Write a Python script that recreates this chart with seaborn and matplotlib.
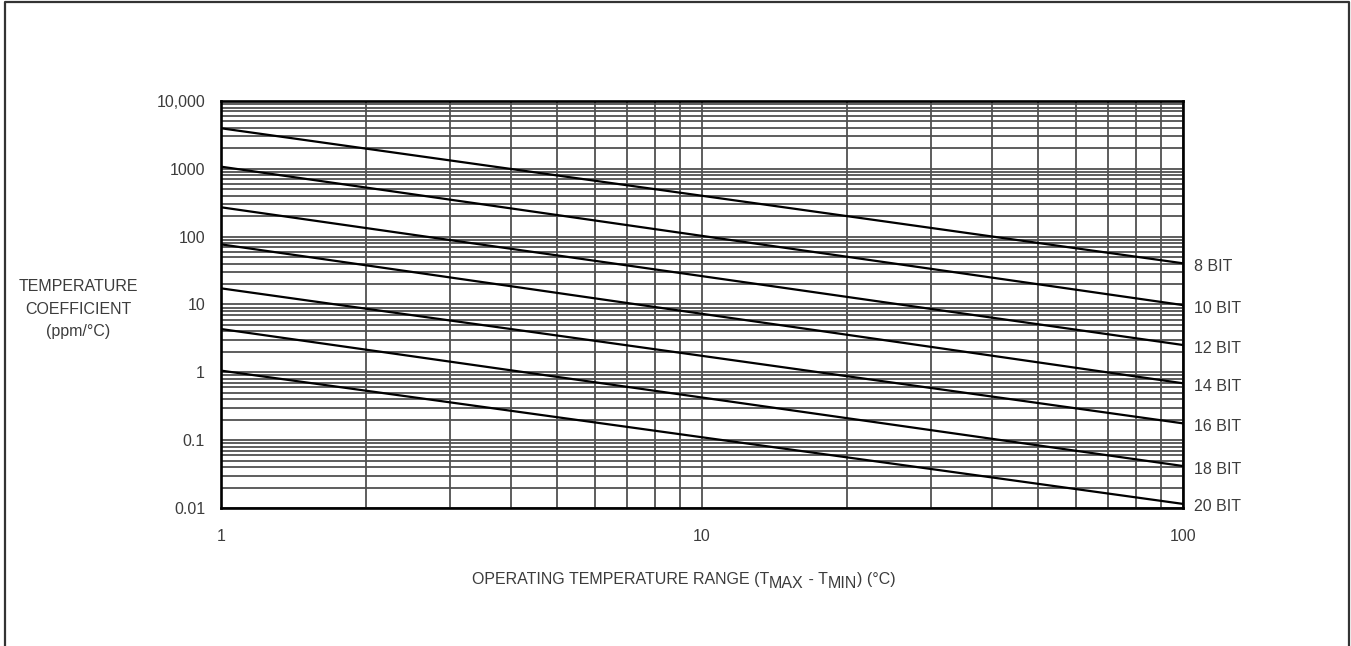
import numpy as np
import pandas as pd
import seaborn as sns
import matplotlib.pyplot as plt
from matplotlib.ticker import LogLocator, NullFormatter
from matplotlib.lines import Line2D

# ── Data ──────────────────────────────────────────────────────────────────────
bits        = ["8 BIT", "10 BIT", "12 BIT", "14 BIT", "16 BIT", "18 BIT", "20 BIT"]
range_ends  = [1, 100]                                        # °C, TMAX - TMIN
tc_at_1     = [3960, 1075, 271, 77, 17.3, 4.35, 1.06]         # ppm/°C at 1 °C
tc_at_100   = [40.5, 9.8, 2.53, 0.69, 0.177, 0.0416, 0.0115]  # ppm/°C at 100 °C

y_ticks       = [0.01, 0.1, 1, 10, 100, 1000, 10000]
y_tick_labels = ["0.01", "0.1", "1", "10", "100", "1000", "10,000"]
x_ticks       = [1, 10, 100]
x_tick_labels = ["1", "10", "100"]

df = pd.DataFrame({
    "bits":  np.repeat(bits, 2),
    "range": range_ends * len(bits),
    "tc":    [v for pair in zip(tc_at_1, tc_at_100) for v in pair],
})

# ── Style ─────────────────────────────────────────────────────────────────────
sns.set_style("white")
plt.rcParams["font.family"] = ["Liberation Sans", "DejaVu Sans"]
TEXT = "#3c3c3c"
GRID = "#505050"
FS   = 11.5

fig = plt.figure(figsize=(13.51, 6.46), dpi=100)
ax = fig.add_axes([0.1636, 0.2136, 0.7120, 0.6301])

sns.lineplot(
    data=df, x="range", y="tc", hue="bits",
    palette=["black"] * len(bits), linewidth=1.6,
    legend=False, ax=ax, zorder=3,
)

ax.set_xscale("log")
ax.set_yscale("log")
ax.set_xlim(1, 100)
ax.set_ylim(0.01, 10000)

ax.set_xticks(x_ticks, x_tick_labels)
ax.set_yticks(y_ticks, y_tick_labels)
ax.xaxis.set_minor_locator(LogLocator(base=10, subs=np.arange(2, 10)))
ax.yaxis.set_minor_locator(LogLocator(base=10, subs=np.arange(2, 10), numticks=20))
ax.xaxis.set_minor_formatter(NullFormatter())
ax.yaxis.set_minor_formatter(NullFormatter())
ax.tick_params(which="both", length=0, labelsize=FS, labelcolor=TEXT)
ax.tick_params(axis="y", pad=11.5)
ax.tick_params(axis="x", pad=15)

ax.grid(which="both", color=GRID, linewidth=1.3, zorder=1)
for s in ax.spines.values():
    s.set_color("black")
    s.set_linewidth(1.9)
    s.set_zorder(4)

ax.set_xlabel("")
ax.set_ylabel("")

# Right-hand resolution labels at each line end
for name, end in zip(bits, tc_at_100):
    ax.annotate(name, xy=(100, end), xytext=(8, -2.2), textcoords="offset points",
                ha="left", va="center", fontsize=FS, color=TEXT,
                annotation_clip=False)

# Y axis label (horizontal, three lines)
fig.text(78 / 1351, 1 - 309 / 646, "TEMPERATURE\nCOEFFICIENT\n(ppm/°C)",
         ha="center", va="center", fontsize=FS, color=TEXT, linespacing=1.6)

# X axis label with lowered MAX / MIN
x0, y0 = 472 / 1351, 1 - 584 / 646
prev = fig.text(x0, y0, "OPERATING TEMPERATURE RANGE (T",
                ha="left", va="baseline", fontsize=FS, color=TEXT)
parts = [("MAX", -3), (" - T", 3), ("MIN", -3), (") (°C)", 3)]
for txt, dy in parts:
    prev = ax.annotate(txt, xy=(1, 0), xycoords=prev, xytext=(0, dy),
                       textcoords="offset points", ha="left", va="bottom",
                       fontsize=FS, color=TEXT, annotation_clip=False)

# Outer frame (left, top, right)
fx = [5 / 1351, 5 / 1351, 1349 / 1351, 1349 / 1351]
fy = [0.0, 1 - 2 / 646, 1 - 2 / 646, 0.0]
fig.add_artist(Line2D(fx, fy, transform=fig.transFigure, color="#333333", linewidth=1.6))

fig.savefig("out.png", dpi=100)
